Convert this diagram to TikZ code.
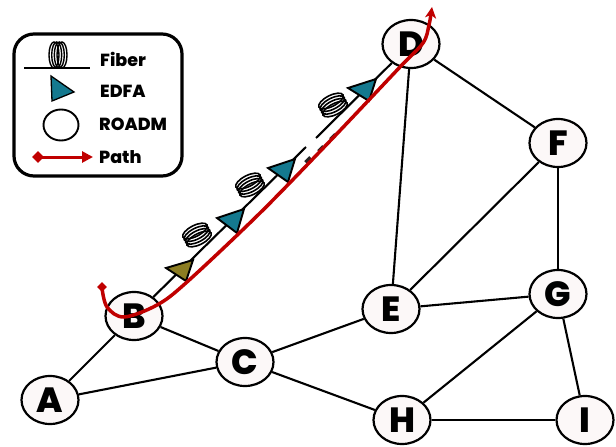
\documentclass[tikz,border=0pt]{standalone}
\usepackage{fontspec}
\setmainfont{Poppins}[BoldFont={Poppins ExtraBold}]
\usetikzlibrary{shapes.geometric,arrows.meta}
\definecolor{edfa}{HTML}{14798F}
\definecolor{olive}{HTML}{8C7D22}
\definecolor{pathred}{HTML}{C00000}
\definecolor{nodefill}{HTML}{FCF8F8}
\tikzset{
  roadm/.style={ellipse,draw=black,line width=2.2pt,fill=nodefill,inner sep=0pt,minimum width=57pt,minimum height=48pt,font=\fontsize{35}{35}\selectfont\bfseries},
  link/.style={draw=black,line width=2.1pt},
  amp/.style={draw=black,line width=1.9pt,line join=miter,fill=edfa},
  loopring/.style={draw=black,line width=1.6pt},
  legendtext/.style={anchor=west,inner sep=0pt,font=\fontsize{17.5}{17.5}\selectfont\bfseries},
  redpath/.style={draw=pathred,line width=3.5pt}
}
\newcommand{\fibercoil}[3]{% x y rot
  \begin{scope}[shift={(#1,#2)},rotate=#3]
    \foreach \d in {-4.5,-1.5,1.5,4.5}{
      \draw[loopring] (\d,0) ellipse [x radius=5.5,y radius=13.5];
    }
  \end{scope}
}
\begin{document}
\begin{tikzpicture}[x=1pt,y=-1pt]
\useasboundingbox (0,0) rectangle (616,447);
% network nodes
\node[roadm] (A) at (50,400) {A};
\node[roadm] (B) at (134,316) {B};
\node[roadm] (C) at (245,362) {C};
\node[roadm] (D) at (411,44) {D};
\node[roadm] (E) at (391,309) {E};
\node[roadm] (F) at (558,143) {F};
\node[roadm] (G) at (558,294) {G};
\node[roadm] (H) at (402,420) {H};
\node[roadm] (I) at (585,420) {I};
% gap in the fibre span
\coordinate (gapa) at (306,147);
\coordinate (gapb) at (316,138);
\draw[link] (A) -- (B);
\draw[link] (A) -- (C);
\draw[link] (B) -- (C);
\draw[link] (C) -- (E);
\draw[link] (C) -- (H);
\draw[link] (D) -- (E);
\draw[link] (D) -- (F);
\draw[link] (E) -- (F);
\draw[link] (E) -- (G);
\draw[link] (F) -- (G);
\draw[link] (G) -- (H);
\draw[link] (G) -- (I);
\draw[link] (H) -- (I);
\draw[link] (B) -- (gapa);
\draw[link] (gapb) -- (D);
% dots of the omitted span
\foreach \x/\y in {308/160,321/149,333/137}{
  \draw[line width=3.6pt,black!85] (\x-2.5,\y+2.5) -- (\x+2.5,\y-2.5);
}
% amplifiers
\draw[amp,fill=olive] (166,268) -- (193,260) -- (186,281) -- cycle;
\draw[amp] (217,218) -- (244,209) -- (237,233) -- cycle;
\draw[amp] (268,168) -- (295,159) -- (288,182) -- cycle;
\draw[amp] (348,88) -- (376,79) -- (369,101) -- cycle;
% fibre coils
\fibercoil{197}{235}{-63}
\fibercoil{250}{185}{-63}
\fibercoil{333}{105}{-63}
% red path
\draw[redpath,-{Stealth[length=11pt,width=11pt,inset=3pt]}] plot[smooth,tension=0.55] coordinates {(102,288) (107,307) (124,317) (157,305) (187,282) (260,213) (330,141) (400,67) (423,43) (429,25) (432,7)};
\node[fill=pathred,diamond,inner sep=0pt,minimum size=10pt] (start) at (102,287) {};
% legend
\draw[black,line width=3.2pt,rounded corners=20pt] (14,34) rectangle (182,176);
\coordinate (la) at (24,68);
\coordinate (lb) at (90,68);
\draw[link,line width=1.6pt] (la) -- (lb);
\begin{scope}[shift={(58,55)}]
  \foreach \d in {-4,-1.3,1.3,4}{
    \draw[black,line width=1.4pt] (\d,0) ellipse [x radius=5,y radius=13];
  }
\end{scope}
\draw[amp,line width=1.3pt] (51,76) -- (74,92) -- (52,101) -- cycle;
\node[ellipse,draw=black,line width=1.9pt,fill=white,minimum width=35pt,minimum height=31pt,inner sep=0pt] (lroadm) at (61,125) {};
\node[fill=pathred,diamond,inner sep=0pt,minimum size=12pt] (ls) at (38,157) {};
\coordinate (le) at (93,157);
\draw[redpath,line width=3pt,-{Stealth[length=11pt,width=11pt,inset=0pt]}] (ls.center) -- (le);
\node[legendtext] (t1) at (100,59) {Fiber};
\node[legendtext] (t2) at (100,91) {EDFA};
\node[legendtext] (t3) at (99,124) {ROADM};
\node[legendtext] (t4) at (99,157) {Path};
\end{tikzpicture}
\end{document}
